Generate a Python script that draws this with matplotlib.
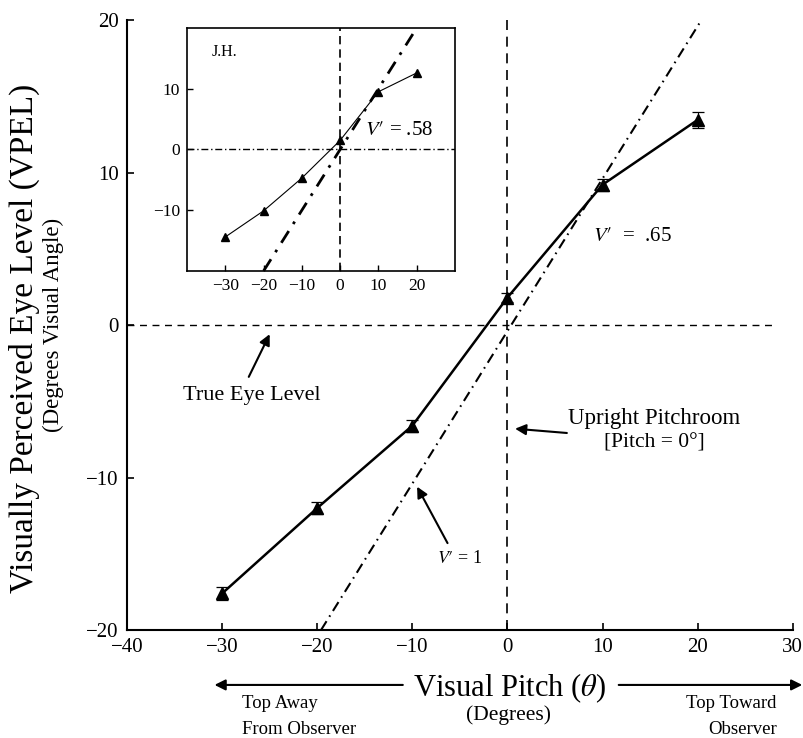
import numpy as np
import matplotlib.pyplot as plt

plt.rcParams['font.family'] = ['Liberation Serif', 'DejaVu Serif']
plt.rcParams['mathtext.fontset'] = 'stix'

# main panel: group mean VPEL vs visual pitch
pitch = [-30, -20, -10, 0, 10, 20]
vpel = [-17.6, -12.0, -6.6, 1.8, 9.2, 13.45]
vpel_err = [0.45, 0.42, 0.4, 0.3, 0.38, 0.55]

# inset: subject J.H.
jh_vpel = [-14.4, -10.1, -4.7, 1.5, 9.5, 12.6]

# V' = 1 reference lines (end points)
v1_x = [-19.6, 20.4]
v1_y = [-20, 20]
v1_inset_x = [-20, 19]
v1_inset_y = [-20, 19]

xticks = [-40, -30, -20, -10, 0, 10, 20, 30]
yticks = [-20, -10, 0, 10, 20]
inset_xticks = [-30, -20, -10, 0, 10, 20]
inset_yticks = [-10, 0, 10]

VP = r'$V\prime$'

fig = plt.figure(figsize=(8.04, 7.38), dpi=100)
ax = fig.add_axes([0.158, 0.1463, 0.828, 0.8266])

ax.set_xlim(-40, 30)
ax.set_ylim(-20, 20)
ax.set_xticks(xticks)
ax.set_yticks(yticks)
ax.tick_params(direction='in', length=5, width=1.2, labelsize=15, pad=6)
for s in ['top', 'right']:
    ax.spines[s].set_visible(False)
for s in ['left', 'bottom']:
    ax.spines[s].set_linewidth(1.5)

# reference lines
ax.axhline(0, xmax=(27.8 + 40) / 70, color='black', lw=1.0, ls=(0, (5, 4)))
ax.axvline(0, color='black', lw=1.2, ls=(0, (6, 4)))
ax.plot(v1_x, v1_y, color='black', lw=1.5, ls=(0, (5, 2.5, 0.8, 2.5)))

# data
ax.errorbar(pitch, vpel, yerr=vpel_err, color='black', lw=1.8, marker='^', ms=8,
            ecolor='black', elinewidth=0.8, capsize=4.5, capthick=0.9)

# annotations
arrow = dict(arrowstyle='-|>', color='black', lw=1.5, mutation_scale=16, shrinkA=0, shrinkB=0)
ax.text(-26.9, -4.6, 'True Eye Level', fontsize=16, ha='center', va='center')
ax.annotate('', xy=(-25.0, -0.6), xytext=(-27.2, -3.4), arrowprops=arrow)

ax.text(15.4, -6.1, 'Upright Pitchroom', fontsize=16.5, ha='center', va='center')
ax.text(15.5, -7.75, '[Pitch = 0°]', fontsize=15.5, ha='center', va='center')
ax.annotate('', xy=(0.8, -6.8), xytext=(6.25, -7.08), arrowprops=arrow)

ax.text(-5.0, -15.3, VP + ' = 1', fontsize=13, ha='center', va='center')
ax.annotate('', xy=(-9.5, -10.6), xytext=(-6.3, -14.3), arrowprops=arrow)

ax.text(9.0, 5.8, VP + '  =  .65', fontsize=15, ha='left', va='center')

# axis labels below and beside
ax.text(0.25, -23.8, r'Visual Pitch ($\theta$)', fontsize=22, ha='center', va='center', clip_on=False)
ax.text(0.15, -25.6, '(Degrees)', fontsize=15.5, ha='center', va='center', clip_on=False)
ax.text(-27.9, -24.8, 'Top Away', fontsize=13.5, ha='left', va='center', clip_on=False)
ax.text(-27.9, -26.5, 'From Observer', fontsize=13.5, ha='left', va='center', clip_on=False)
ax.text(28.3, -24.8, 'Top Toward', fontsize=13.5, ha='right', va='center', clip_on=False)
ax.text(28.3, -26.5, 'Observer', fontsize=13.5, ha='right', va='center', clip_on=False)
ax.annotate('', xy=(-30.8, -23.6), xytext=(-11.0, -23.6), arrowprops=arrow, annotation_clip=False)
ax.annotate('', xy=(31.0, -23.6), xytext=(11.7, -23.6), arrowprops=arrow, annotation_clip=False)

fig.text(24 / 804, 1 - 338 / 738, 'Visually Perceived Eye Level (VPEL)', fontsize=24,
         rotation=90, ha='center', va='center')
fig.text(53 / 804, 1 - 325 / 738, '(Degrees Visual Angle)', fontsize=16.5,
         rotation=90, ha='center', va='center')

# inset
ins = fig.add_axes([0.2326, 0.6328, 0.3333, 0.3293])
ins.set_xlim(-40, 30)
ins.set_ylim(-20, 20)
ins.set_xticks(inset_xticks)
ins.set_yticks(inset_yticks)
ins.tick_params(direction='in', length=4, width=1, labelsize=12.5, pad=5)
for s in ins.spines.values():
    s.set_linewidth(1.2)
ins.axhline(0, color='black', lw=1.0, ls=(0, (5, 2, 1, 2)))
ins.axvline(0, color='black', lw=1.2, ls=(0, (5, 3)))
ins.plot(v1_inset_x, v1_inset_y, color='black', lw=2, ls=(0, (5, 3, 1, 3)))
ins.plot(pitch, jh_vpel, color='black', lw=0.8, marker='^', ms=6)
ins.text(-33.6, 16.1, 'J.H.', fontsize=11.5, ha='left', va='center')
ins.text(6.6, 3.1, VP + ' = .58', fontsize=15, ha='left', va='center')

fig.savefig('out.png', dpi=100)
